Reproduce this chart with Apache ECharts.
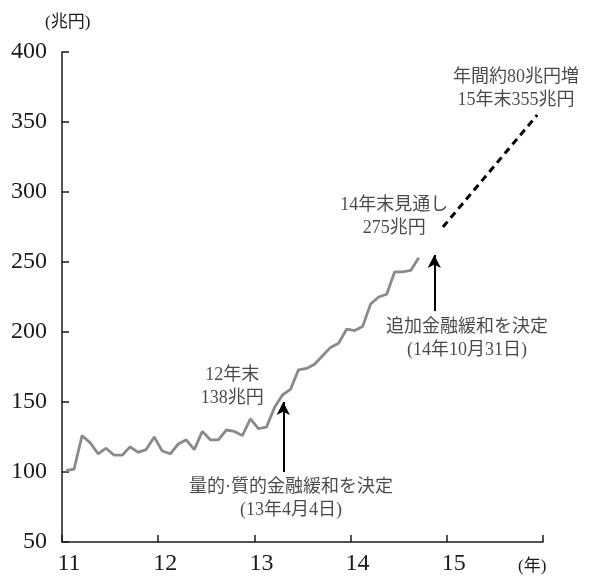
<!DOCTYPE html>
<html>
<head>
<meta charset="utf-8">
<script src="https://cdn.jsdelivr.net/npm/echarts@6/dist/echarts.min.js"></script>
<style>
  html, body { margin: 0; padding: 0; background: #fff; }
  #chart { width: 589px; height: 577px; }
</style>
</head>
<body>
<div id="chart"></div>
<script>
// Monetary base (trillion yen), monthly averages from Jan 2011 to Sep 2014
const startYear = 11;
const monetaryBase = [
  101, 102, 126, 121, 113, 117, 112, 112, 118, 114, 116, 125,   // 2011
  115, 113, 120, 123, 116, 129, 123, 123, 130, 129, 126, 138,   // 2012
  131, 132, 146, 155, 159, 173, 174, 177, 183, 189, 192, 202,   // 2013
  201, 204, 220, 225, 227, 243, 243, 244, 253                   // 2014
];
// Projected path: end-2014 outlook to end-2015 target
const outlookPath = [[14.96, 275], [15.94, 355]];
// Policy decision arrows: [year position, value at tail, value at head]
const policyArrows = [[13.30, 100, 150], [14.87, 215, 255]];
// Annotation texts and their anchor positions [year position, value]
const annotations = [
  { text: '12年末\n138兆円', at: [12.77, 161] },
  { text: '量的·質的金融緩和を決定\n(13年4月4日)', at: [13.38, 81] },
  { text: '14年末見通し\n275兆円', at: [14.455, 282] },
  { text: '年間約80兆円増\n15年末355兆円', at: [15.72, 374] },
  { text: '追加金融緩和を決定\n(14年10月31日)', at: [15.21, 195.5] }
];
const xTickLabels = [11, 12, 13, 14, 15];
const yMin = 50, yMax = 400, yStep = 50;

const FONT = '"Liberation Serif", "Noto Sans CJK JP", serif';
const INK = '#1a1a1a';

const seriesPoints = monetaryBase.map((v, i) => [startYear + (i + 0.5) / 12, v]);

const chart = echarts.init(document.getElementById('chart'), null, { renderer: 'canvas' });
chart.setOption({
  animation: false,
  backgroundColor: '#fff',
  grid: { left: 62, right: 46, top: 52, bottom: 35, containLabel: false },
  xAxis: {
    type: 'value', min: 11, max: 16, interval: 1,
    axisLine: { lineStyle: { color: INK, width: 1.5 } },
    axisTick: { inside: true, length: 7, lineStyle: { color: INK, width: 1.5 } },
    splitLine: { show: false },
    axisLabel: {
      color: INK, fontFamily: FONT, fontSize: 24, margin: 10,
      padding: [0, 0, 0, 14],
      formatter: v => (xTickLabels.indexOf(v) >= 0 ? String(v) : '')
    }
  },
  yAxis: {
    type: 'value', min: yMin, max: yMax, interval: yStep,
    axisLine: { show: true, lineStyle: { color: INK, width: 1.5 } },
    axisTick: { show: true, inside: true, length: 7, lineStyle: { color: INK, width: 1.5 } },
    splitLine: { show: false },
    axisLabel: { color: INK, fontFamily: FONT, fontSize: 24, margin: 15 }
  },
  series: [
    {
      type: 'line', data: seriesPoints, showSymbol: false, symbol: 'none',
      lineStyle: { color: '#8a8a8a', width: 2.8 }, z: 3
    },
    {
      type: 'line', data: outlookPath, showSymbol: false, symbol: 'none',
      lineStyle: { color: '#000', width: 3, type: [7, 5] }, z: 3
    },
    {
      type: 'line', data: [], silent: true,
      markLine: {
        silent: true, animation: false,
        symbol: ['none', 'arrow'], symbolSize: [10, 13],
        label: { show: false },
        lineStyle: { color: '#000', width: 2, type: 'solid' },
        data: policyArrows.map(a => [{ coord: [a[0], a[1]] }, { coord: [a[0], a[2]] }])
      }
    },
    {
      type: 'scatter', symbolSize: 0.1, silent: true,
      itemStyle: { color: 'rgba(0,0,0,0)' },
      data: annotations.map(a => ({ value: a.at, name: a.text })),
      label: {
        show: true, position: 'inside', formatter: p => p.name,
        color: INK, fontFamily: FONT, fontSize: 18, lineHeight: 23, align: 'center'
      },
      z: 5
    }
  ],
  graphic: [
    { type: 'text', left: 45, top: 14,
      style: { text: '(兆円)', fill: INK, font: '17px ' + FONT } },
    { type: 'text', left: 518, top: 558,
      style: { text: '(年)', fill: INK, font: '17px ' + FONT } }
  ]
});
</script>
</body>
</html>
